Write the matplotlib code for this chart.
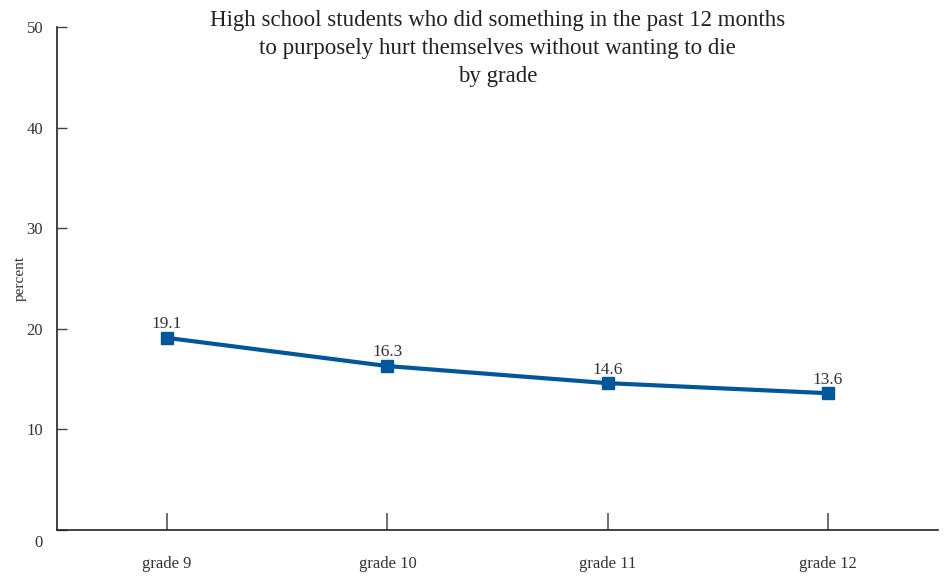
import matplotlib.pyplot as plt
from matplotlib.transforms import ScaledTranslation

grades = ['grade 9', 'grade 10', 'grade 11', 'grade 12']
pct = [19.1, 16.3, 14.6, 13.6]
yticks = [0, 10, 20, 30, 40, 50]

plt.rcParams['font.family'] = ['Liberation Serif', 'DejaVu Serif']
blue = '#00589a'

fig = plt.figure(figsize=(9.48, 5.76), dpi=100)
ax = fig.add_axes([0.0601, 0.0799, 0.9294, 0.873])

x = range(len(grades))
ax.plot(x, pct, color=blue, lw=3, marker='s', ms=8, zorder=3)
for i, v in enumerate(pct):
    ax.annotate(f'{v}', (i, v), xytext=(0, 4), textcoords='offset points',
                ha='center', va='bottom', fontsize=12.5, color='#333333')

ax.set_xlim(-0.5, 3.5)
ax.set_ylim(0, 50)
ax.set_xticks(list(x))
ax.set_xticklabels(grades, fontsize=12, color='#333333')
ax.set_yticks(yticks)
ax.set_yticklabels([str(t) for t in yticks], fontsize=12, color='#333333')
ax.tick_params(axis='y', direction='in', length=7, width=1, pad=10, color='#444444')
ax.tick_params(axis='x', direction='in', length=12, width=1.2, pad=19, color='#555555')
ax.spines[['top', 'right']].set_visible(False)
for s in ['left', 'bottom']:
    ax.spines[s].set_color('#222222')
    ax.spines[s].set_linewidth(1.2)

# nudge the "0" label down a little
lab0 = ax.get_yticklabels()[0]
lab0.set_transform(lab0.get_transform() + ScaledTranslation(0, -8 / 72, fig.dpi_scale_trans))

ax.set_ylabel('percent', fontsize=11, color='#333333', labelpad=0)

fig.text(0.525, 0.983,
         'High school students who did something in the past 12 months\n'
         'to purposely hurt themselves without wanting to die\nby grade',
         ha='center', va='top', fontsize=16.5, color='#222222', linespacing=1.45)

fig.savefig('out.png', dpi=100)
